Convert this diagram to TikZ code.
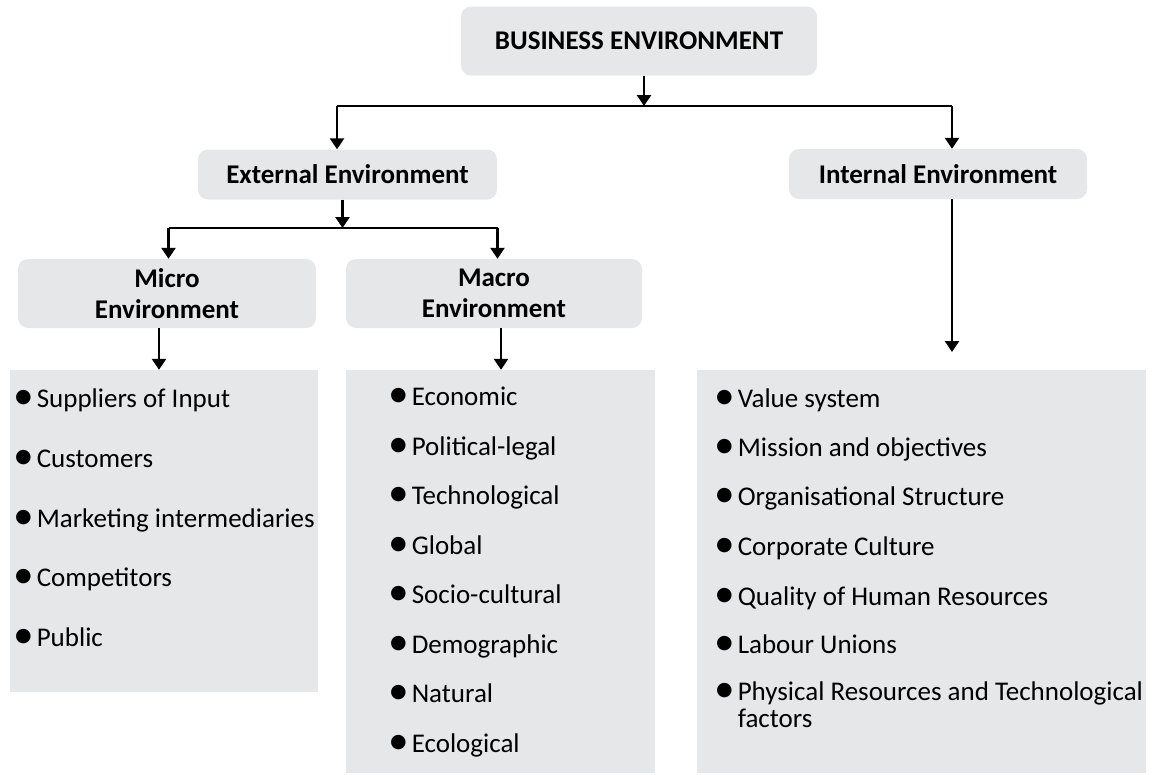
\documentclass[tikz,border=0pt]{standalone}
\usepackage{fontspec}
\setmainfont{Carlito}
\newfontfamily\symfont{DejaVu Sans}
\usetikzlibrary{arrows.meta}
\definecolor{boxgray}{HTML}{E6E7E8}
\newcommand{\blt}{\raisebox{4.5pt}{\symfont\fontsize{19}{19}\selectfont ●}\hspace{5pt}}
\tikzset{
  headbox/.style={fill=boxgray, rounded corners=10pt, inner sep=0pt, align=center,
    font=\fontsize{27}{31}\selectfont\bfseries},
  listbox/.style={fill=boxgray, inner sep=0pt},
  entry/.style={anchor=base west, inner sep=0pt, align=left,
    font=\fontsize{27}{27}\selectfont},
  link/.style={line width=2.5pt, -{Triangle[length=11pt, width=14pt]}},
  bus/.style={line width=2.5pt},
}
\begin{document}
\begin{tikzpicture}[x=1pt, y=-1pt]
		\useasboundingbox (0,0) rectangle (1153,774);
		% heading boxes
		\node[headbox, minimum width=356pt, minimum height=69pt] (top) at (639,41) {BUSINESS ENVIRONMENT};
		\node[headbox, minimum width=299pt, minimum height=50pt] (ext) at (347.5,174.5) {External Environment};
		\node[headbox, minimum width=298pt, minimum height=50pt] (int) at (938,174) {Internal Environment};
		\node[headbox, minimum width=298pt, minimum height=69pt] (micro) at (167,293.5) {Micro\\Environment};
		\node[headbox, minimum width=296pt, minimum height=69pt] (macro) at (494,293.5) {Macro\\Environment};
		% list boxes
		\node[listbox, minimum width=308pt, minimum height=322pt] (microlist) at (164,531) {};
		\node[listbox, minimum width=309pt, minimum height=403pt] (macrolist) at (500.5,571.5) {};
		\node[listbox, minimum width=449pt, minimum height=403pt] (intlist) at (921.5,571.5) {};
		% junctions
		\coordinate (j1) at (644,106);
		\coordinate (j1l) at (337,106);
		\coordinate (j1r) at (952,106);
		\coordinate (j2) at (342.5,228);
		\coordinate (j2l) at (168.5,228);
		\coordinate (j2r) at (497.5,228);
		\coordinate (intend) at (952,352);
		% connectors
		\draw[link] (top.south -| j1) -- (j1);
		\draw[bus] (j1l) -- (j1r);
		\draw[link] (j1l) -- (ext.north -| j1l);
		\draw[link] (j1r) -- (int.north -| j1r);
		\draw[link] (ext.south -| j2) -- (j2);
		\draw[bus] (j2l) -- (j2r);
		\draw[link] (j2l) -- (micro.north -| j2l);
		\draw[link] (j2r) -- (macro.north -| j2r);
		\draw[link] (micro.south -| 159,0) -- (microlist.north -| 159,0);
		\draw[link] (macro.south -| 501,0) -- (macrolist.north -| 501,0);
		\draw[link] (int.south -| intend) -- (intend);
		% micro items
		\node[entry] (mi1) at (15,407) {\blt Suppliers of Input};
		\node[entry] (mi2) at (15,467) {\blt Customers};
		\node[entry] (mi3) at (15,527) {\blt Marketing intermediaries};
		\node[entry] (mi4) at (15,586) {\blt Competitors};
		\node[entry] (mi5) at (15,646) {\blt Public};
		% macro items
		\node[entry] (ma1) at (390,405) {\blt Economic};
		\node[entry] (ma2) at (390,455) {\blt Political-legal};
		\node[entry] (ma3) at (390,504) {\blt Technological};
		\node[entry] (ma4) at (390,554) {\blt Global};
		\node[entry] (ma5) at (390,603) {\blt Socio-cultural};
		\node[entry] (ma6) at (390,653) {\blt Demographic};
		\node[entry] (ma7) at (390,702) {\blt Natural};
		\node[entry] (ma8) at (390,752) {\blt Ecological};
		% internal items
		\node[entry] (in1) at (716,407) {\blt Value system};
		\node[entry] (in2) at (716,456) {\blt Mission and objectives};
		\node[entry] (in3) at (716,505) {\blt Organisational Structure};
		\node[entry] (in4) at (716,555) {\blt Corporate Culture};
		\node[entry] (in5) at (716,605) {\blt Quality of Human Resources};
		\node[entry] (in6) at (716,653) {\blt Labour Unions};
		\node[entry] (in7) at (716,727) {\blt Physical Resources and Technological\\\phantom{\blt}factors};
	\end{tikzpicture}
\end{document}
